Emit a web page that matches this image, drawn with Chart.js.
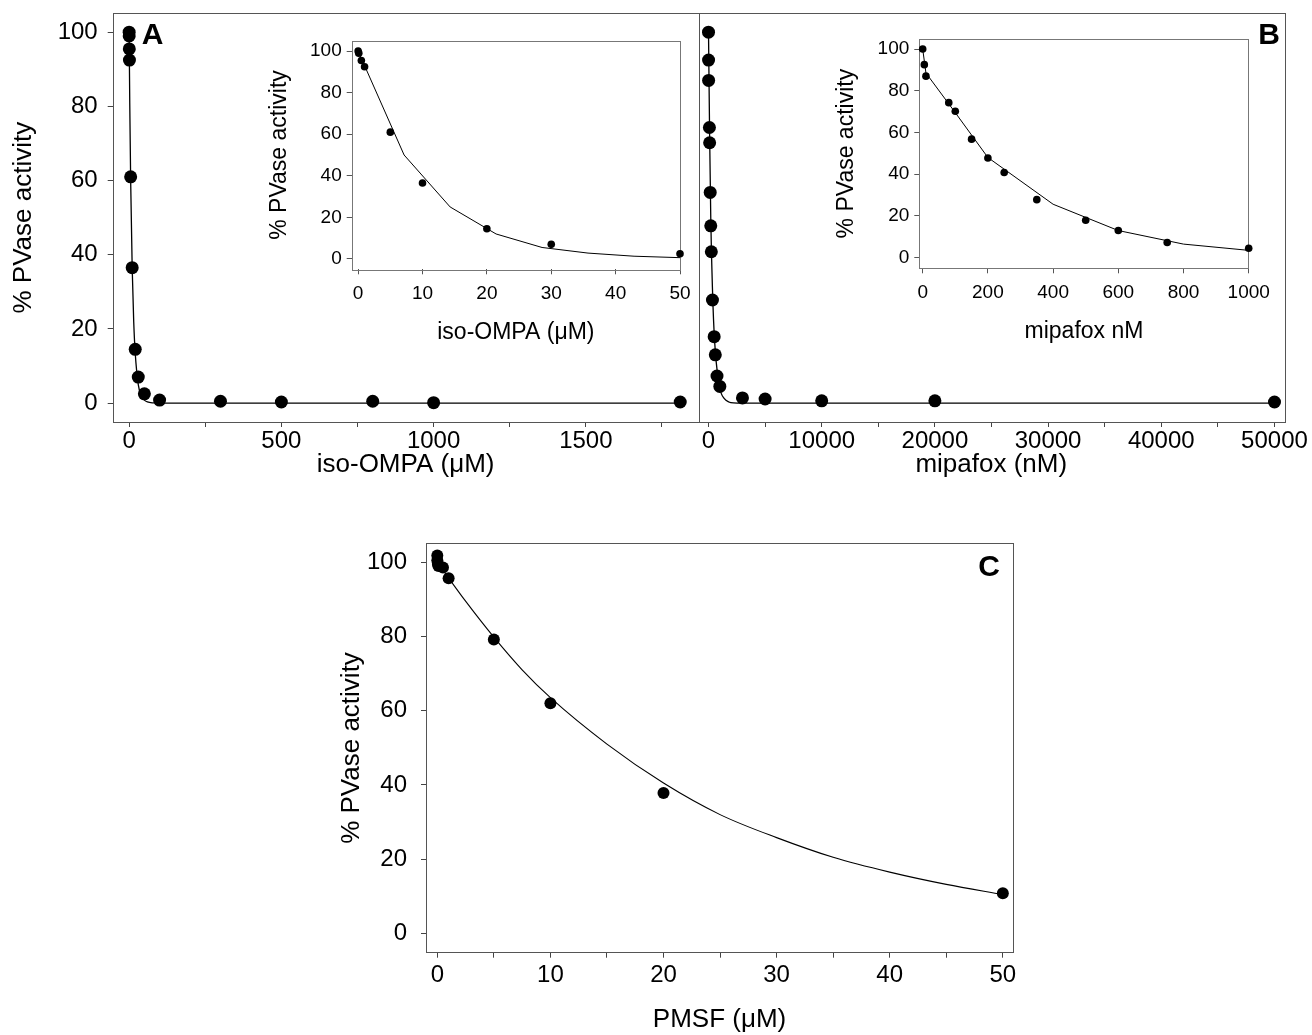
<!DOCTYPE html>
<html>
<head>
<meta charset="utf-8">
<script src="https://cdn.jsdelivr.net/npm/chart.js@4.4.1/dist/chart.umd.min.js"></script>
<style>
  html, body { margin: 0; padding: 0; background: #fff; }
  #wrap { position: relative; width: 1312px; height: 1035px; }
  #wrap canvas { position: absolute; left: 0; top: 0; }
</style>
</head>
<body>
<div id="wrap">
  <canvas id="chartA" width="1312" height="1035"></canvas>
  <canvas id="chartB" width="1312" height="1035"></canvas>
  <canvas id="chartC" width="1312" height="1035"></canvas>
  <canvas id="insetA" width="1312" height="1035"></canvas>
  <canvas id="insetB" width="1312" height="1035"></canvas>
</div>
<script>
// 數據：數值
// A: iso-OMPA (µM)
const isoX = [0, 0.1, 0.5, 1, 5, 10, 20, 30, 50, 100, 300, 500, 800, 1000, 1810];
const isoY = [100, 99, 95.5, 92.5, 61, 36.5, 14.5, 7, 2.5, 0.8, 0.5, 0.3, 0.5, 0.1, 0.3];
const isoFitX = [0, 2, 5, 10, 15, 20, 30, 40, 50, 60, 80, 100, 1810];
const isoFitY = [100, 81, 60, 36.5, 22, 13.5, 5, 2, 0.8, 0.3, 0.05, 0, 0];
const isoInsetX = [0, 0.1, 0.5, 1, 5, 10, 20, 30, 50];
const isoInsetY = [100, 99, 95.5, 92.5, 61, 36.5, 14.5, 7, 2.5];
const isoInsetFitX = [0, 7.14, 14.29, 21.43, 28.57, 35.71, 42.86, 50];
const isoInsetFitY = [100, 50, 25, 12, 5.5, 2.8, 1.3, 0.6];

// B: mipafox (nM)
const mipX = [0, 5, 10, 80, 100, 150, 200, 250, 350, 500, 600, 750, 1000, 3000, 5000, 10000, 20000, 50000];
const mipY = [100, 92.5, 87, 74.3, 70.2, 56.8, 47.8, 40.8, 27.8, 17.9, 13, 7.3, 4.5, 1.4, 1.1, 0.6, 0.6, 0.3];
const mipFitX = [0, 100, 200, 400, 600, 1000, 1400, 1800, 2200, 3000, 50000];
const mipFitY = [100, 72, 50, 26, 14, 4, 1.2, 0.3, 0.05, 0, 0];
const mipInsetX = [0, 5, 10, 80, 100, 150, 200, 250, 350, 500, 600, 750, 1000];
const mipInsetY = [100, 92.5, 87, 74.3, 70.2, 56.8, 47.8, 40.8, 27.8, 17.9, 13, 7.3, 4.5];
const mipInsetFitX = [0, 10, 100, 200, 400, 600, 800, 1000];
const mipInsetFitY = [100, 88.5, 69.5, 48, 25.6, 13, 6.5, 3.5];

// C: PMSF (µM)
const pmsfX = [0, 0, 0.05, 0.1, 0.5, 1, 5, 10, 20, 50];
const pmsfY = [101.8, 100.5, 99.5, 99, 98.6, 95.7, 79.2, 62, 37.8, 10.8];
const pmsfFitX = [0, 2.5, 5, 7.5, 10, 15, 20, 25, 30, 35, 40, 45, 50];
const pmsfFitY = [100, 89.5, 79.8, 71, 63.5, 51, 40.5, 32, 25.8, 20.5, 16.5, 13.2, 10.5];

// 刻度
const pctTicks = [0, 20, 40, 60, 80, 100];
const isoTicks = [0, 250, 500, 750, 1000, 1250, 1500, 1750];
const isoLabels = [0, 500, 1000, 1500];
const isoInsetTicks = [0, 10, 20, 30, 40, 50];
const mipTicks = [0, 5000, 10000, 15000, 20000, 25000, 30000, 35000, 40000, 45000, 50000];
const mipLabels = [0, 10000, 20000, 30000, 40000, 50000];
const mipInsetTicks = [0, 200, 400, 600, 800, 1000];
const pmsfTicks = [0, 5, 10, 15, 20, 25, 30, 35, 40, 45, 50];
const pmsfLabels = [0, 10, 20, 30, 40, 50];

const FONT = "'Liberation Sans', Arial, Helvetica, sans-serif";
const PAGE_W = 1312, PAGE_H = 1035;

const toXY = (xs, ys) => xs.map((x, i) => ({ x: x, y: ys[i] }));

// 邊框：把整個繪圖區框起來
const framePlugin = {
  id: 'frame',
  beforeDatasetsDraw(chart, args, opts) {
    const a = chart.chartArea;
    const c = chart.ctx;
    c.save();
    c.strokeStyle = opts.color;
    c.lineWidth = opts.width;
    c.strokeRect(Math.round(a.left) + 0.5, Math.round(a.top) + 0.5,
      Math.round(a.right - a.left), Math.round(a.bottom - a.top));
    c.restore();
  }
};

// 面板字母 A / B / C
const letterPlugin = {
  id: 'letter',
  afterDraw(chart, args, opts) {
    if (!opts.text) return;
    const a = chart.chartArea;
    const c = chart.ctx;
    c.save();
    c.font = 'bold 30px ' + FONT;
    c.fillStyle = '#000';
    c.textBaseline = 'top';
    c.textAlign = opts.align;
    const x = opts.align === 'right' ? a.right - opts.dx : a.left + opts.dx;
    c.fillText(opts.text, x, a.top + opts.dy);
    c.restore();
  }
};

function axis(o) {
  return {
    type: 'linear',
    display: o.display !== false,
    min: o.min,
    max: o.max,
    afterBuildTicks: s => { s.ticks = o.ticks.map(v => ({ value: v })); },
    afterFit: s => {
      if (o.horizontal) s.height = o.size; else s.width = o.size;
      s.paddingLeft = s.paddingRight = s.paddingTop = s.paddingBottom = 0;
    },
    ticks: {
      autoSkip: false,
      maxRotation: 0,
      padding: o.pad,
      color: '#000',
      font: { family: FONT, size: o.fs },
      callback: v => (o.labels || o.ticks).includes(v) ? String(v) : ''
    },
    grid: { display: true, drawOnChartArea: false, drawTicks: true, tickLength: 5, color: o.tickColor, lineWidth: 1 },
    border: { display: false },
    title: {
      display: !!o.title,
      text: o.title,
      color: '#000',
      font: { family: FONT, size: o.tfs },
      padding: { top: o.tpad, bottom: o.tpad }
    }
  };
}

function panel(id, p) {
  const box = p.box;
  const yW = p.y.display === false ? 0 : p.y.size;
  return new Chart(document.getElementById(id), {
    type: 'scatter',
    data: {
      datasets: [
        { data: toXY(p.ptsX, p.ptsY), pointRadius: p.r, pointBackgroundColor: '#000', pointBorderWidth: 0, clip: false, order: 0 },
        { data: toXY(p.fitX, p.fitY), showLine: true, pointRadius: 0, borderColor: '#000', borderWidth: p.lw,
          tension: p.smooth ? 0.4 : 0, cubicInterpolationMode: p.smooth ? 'monotone' : 'default', clip: false, order: 1 }
      ]
    },
    options: {
      responsive: false,
      animation: false,
      events: [],
      layout: {
        padding: {
          left: box.l - yW,
          top: box.t,
          right: PAGE_W - box.r,
          bottom: PAGE_H - box.b - p.x.size
        }
      },
      plugins: {
        legend: { display: false },
        tooltip: { enabled: false },
        frame: { color: p.frameColor, width: 1 },
        letter: p.letter || {}
      },
      scales: {
        x: axis(Object.assign({ horizontal: true }, p.x)),
        y: axis(p.y)
      }
    },
    plugins: [framePlugin, letterPlugin]
  });
}

// A 主圖
panel('chartA', {
  box: { l: 112.7, t: 13.3, r: 698.5, b: 422 },
  ptsX: isoX, ptsY: isoY, fitX: isoFitX, fitY: isoFitY, r: 6.5, lw: 1.3, smooth: true,
  frameColor: '#555',
  letter: { text: 'A', align: 'left', dx: 29, dy: 7 },
  x: { min: -54, max: 1870, ticks: isoTicks, labels: isoLabels, size: 63, pad: 0, fs: 24, tickColor: '#444',
       title: 'iso-OMPA (\u03bcM)', tfs: 26, tpad: 5 },
  y: { min: -5.1, max: 105.1, ticks: pctTicks, size: 112.7, pad: 10, fs: 24, tickColor: '#444',
       title: '% PVase activity', tfs: 26, tpad: 8 }
});

// B 主圖
panel('chartB', {
  box: { l: 698.5, t: 13.3, r: 1284, b: 422 },
  ptsX: mipX, ptsY: mipY, fitX: mipFitX, fitY: mipFitY, r: 6.5, lw: 1.3, smooth: true,
  frameColor: '#555',
  letter: { text: 'B', align: 'right', dx: 4, dy: 7 },
  x: { min: -884, max: 50840, ticks: mipTicks, labels: mipLabels, size: 63, pad: 0, fs: 24, tickColor: '#444',
       title: 'mipafox (nM)', tfs: 26, tpad: 5 },
  y: { display: false, min: -5.1, max: 105.1, ticks: pctTicks, size: 0, pad: 0, fs: 24, tickColor: '#444' }
});

// C 主圖
panel('chartC', {
  box: { l: 426, t: 543.3, r: 1013, b: 952.7 },
  ptsX: pmsfX, ptsY: pmsfY, fitX: pmsfFitX, fitY: pmsfFitY, r: 6, lw: 1.1, smooth: true,
  frameColor: '#555',
  letter: { text: 'C', align: 'right', dx: 13, dy: 9 },
  x: { min: -1, max: 50.9, ticks: pmsfTicks, labels: pmsfLabels, size: 82.3, pad: 3, fs: 24, tickColor: '#444',
       title: 'PMSF (\u03bcM)', tfs: 26, tpad: 0 },
  y: { min: -5.2, max: 105.1, ticks: pctTicks, size: 100, pad: 14, fs: 24, tickColor: '#444',
       title: '% PVase activity', tfs: 26, tpad: 10 }
});

// A 內嵌圖
panel('insetA', {
  box: { l: 351.7, t: 40.7, r: 680, b: 269.3 },
  ptsX: isoInsetX, ptsY: isoInsetY, fitX: isoInsetFitX, fitY: isoInsetFitY, r: 3.8, lw: 1, smooth: false,
  frameColor: '#777',
  x: { min: -1, max: 50, ticks: isoInsetTicks, size: 80, pad: 8, fs: 19, tickColor: '#555',
       title: 'iso-OMPA (\u03bcM)', tfs: 23, tpad: 3 },
  y: { min: -5, max: 105, ticks: pctTicks, size: 90, pad: 5, fs: 19, tickColor: '#555',
       title: '% PVase activity', tfs: 23, tpad: 4 }
});

// B 內嵌圖
panel('insetB', {
  box: { l: 919.3, t: 39, r: 1248.7, b: 268.3 },
  ptsX: mipInsetX, ptsY: mipInsetY, fitX: mipInsetFitX, fitY: mipInsetFitY, r: 3.8, lw: 1, smooth: false,
  frameColor: '#777',
  x: { min: -10.4, max: 1000, ticks: mipInsetTicks, size: 80, pad: 8, fs: 19, tickColor: '#555',
       title: 'mipafox nM', tfs: 23, tpad: 3 },
  y: { min: -5.1, max: 104.8, ticks: pctTicks, size: 90, pad: 5, fs: 19, tickColor: '#555',
       title: '% PVase activity', tfs: 23, tpad: 4 }
});
</script>
</body>
</html>
